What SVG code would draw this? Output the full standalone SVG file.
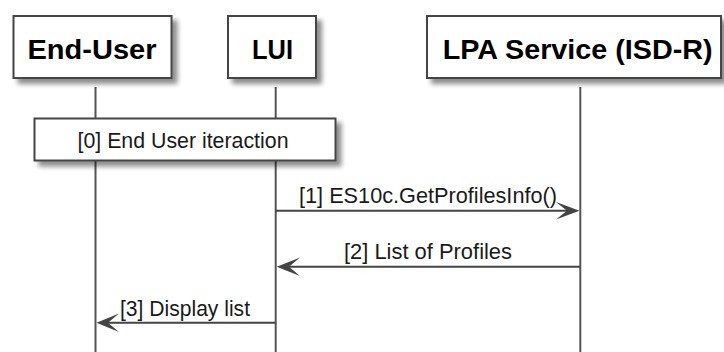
<svg xmlns="http://www.w3.org/2000/svg" width="724" height="352" viewBox="0 0 724 352">
<style>
.box{fill:#ffffff;stroke:#454545;stroke-width:2}
.life{stroke:#555555;stroke-width:2;fill:none}
.msg{stroke:#444444;stroke-width:2;fill:none}
.head{fill:#444444;stroke:none}
.ttl{font-family:"Liberation Sans",Arial,sans-serif;font-weight:bold;font-size:28px;fill:#000000}
.lbl{font-family:"Liberation Sans",Arial,sans-serif;font-size:21.5px;fill:#1a1a1a}
</style>
<defs>
<filter id="sh" x="-10%" y="-20%" width="130%" height="160%">
<feGaussianBlur in="SourceAlpha" stdDeviation="2.5"/>
<feOffset dx="5" dy="5" result="b"/>
<feComponentTransfer><feFuncA type="linear" slope="0.45"/></feComponentTransfer>
<feMerge><feMergeNode/><feMergeNode in="SourceGraphic"/></feMerge>
</filter>
</defs>
<g id="lifelines">
<line class="life" x1="95.5" y1="87" x2="95.5" y2="352"/>
<line class="life" x1="275.7" y1="87" x2="275.7" y2="352"/>
<line class="life" x1="580.3" y1="87" x2="580.3" y2="352"/>
</g>
<g id="end-user">
<rect class="box" x="13.5" y="16" width="158" height="62" filter="url(#sh)"/>
<text class="ttl" x="92" y="59" text-anchor="middle" textLength="129" lengthAdjust="spacingAndGlyphs">End-User</text>
</g>
<g id="lui">
<rect class="box" x="228" y="16" width="88" height="62" filter="url(#sh)"/>
<text class="ttl" x="272.5" y="59" text-anchor="middle" textLength="41" lengthAdjust="spacingAndGlyphs">LUI</text>
</g>
<g id="lpa-service">
<rect class="box" x="427" y="16" width="294" height="62" filter="url(#sh)"/>
<text class="ttl" x="577.7" y="59" text-anchor="middle" textLength="270" lengthAdjust="spacingAndGlyphs">LPA Service (ISD-R)</text>
</g>
<g id="note-0">
<rect class="box" x="34.5" y="118.5" width="301" height="42" filter="url(#sh)"/>
<text class="lbl" x="183" y="148" text-anchor="middle" textLength="211" lengthAdjust="spacingAndGlyphs">[0] End User iteraction</text>
</g>
<g id="connectors">
<line class="msg" x1="275.7" y1="210.7" x2="574" y2="210.7"/>
<polygon class="head" points="579.5,210.7 556,202 567,210.7 556,219.4"/>
<text class="lbl" x="299" y="203" textLength="258" lengthAdjust="spacingAndGlyphs">[1] ES10c.GetProfilesInfo()</text>
<line class="msg" x1="580.3" y1="266.7" x2="282" y2="266.7"/>
<polygon class="head" points="276.7,266.7 300,257.5 289,266.7 300,276"/>
<text class="lbl" x="344" y="259" textLength="168" lengthAdjust="spacingAndGlyphs">[2] List of Profiles</text>
<line class="msg" x1="275.7" y1="322.7" x2="102" y2="322.7"/>
<polygon class="head" points="96.5,322.7 119,313.5 108,322.7 119,332"/>
<text class="lbl" x="120" y="315.5" textLength="130" lengthAdjust="spacingAndGlyphs">[3] Display list</text>
</g>
</svg>
